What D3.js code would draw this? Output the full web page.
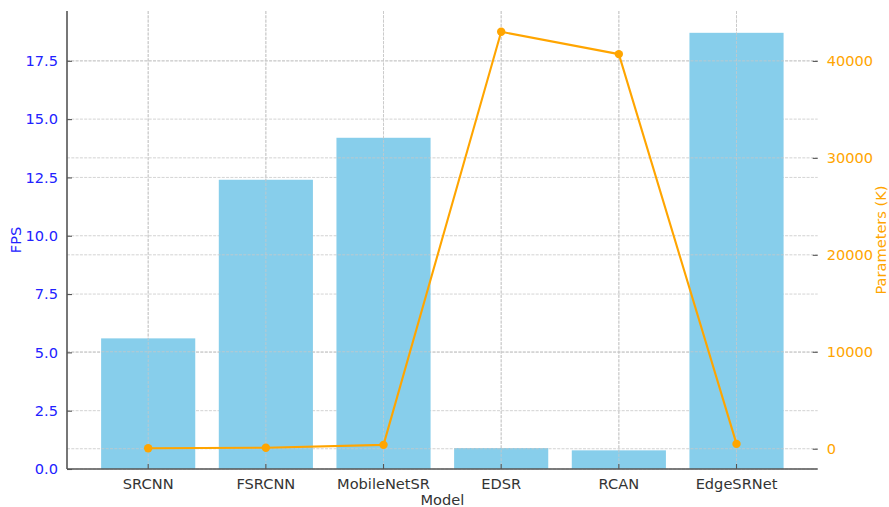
<!DOCTYPE html>
<html><head><meta charset="utf-8">
<script src="https://cdn.jsdelivr.net/npm/d3@7"></script>
<style>body{margin:0;background:#fff}svg{display:block}text{font-family:"DejaVu Sans",sans-serif}</style>
</head><body><svg id="c" width="889" height="507"></svg>
<script>
const categories = ["SRCNN","FSRCNN","MobileNetSR","EDSR","RCAN","EdgeSRNet"];
const fps = [5.6, 12.4, 14.2, 0.9, 0.8, 18.7];
const params = [57, 100, 400, 43000, 40700, 500];
const fpsTicks = [0, 2.5, 5, 7.5, 10, 12.5, 15, 17.5];
const paramTicks = [0, 10000, 20000, 30000, 40000];

const W = 889, H = 507;
const L = 67, R = 817.7, T = 11, B = 469;
const svg = d3.select("#c");
const fs = 14.6;

const x = d3.scaleBand().domain(categories).range([L, R]).paddingInner(0.2).paddingOuter(0.29);
const yL = d3.scaleLinear().domain([0, d3.max(fps) * 1.05]).range([B, T]);
const pMin = d3.min(params), pMax = d3.max(params), span = pMax - pMin;
const yR = d3.scaleLinear().domain([pMin - 0.05 * span, pMax + 0.05 * span]).range([B, T]);
const cx = d => x(d) + x.bandwidth() / 2;

const gridStyle = s => s.attr("stroke", "#c8c8c8").attr("stroke-width", 0.8).attr("stroke-dasharray", "3,1.3");

// ax1 grid
const g1 = svg.append("g");
g1.selectAll("line.h").data(fpsTicks).join("line").attr("x1", L).attr("x2", R)
  .attr("y1", d => yL(d)).attr("y2", d => yL(d)).call(gridStyle);
g1.selectAll("line.v").data(categories).join("line").attr("y1", T).attr("y2", B)
  .attr("x1", cx).attr("x2", cx).call(gridStyle);

// bars
svg.append("g").selectAll("rect").data(categories).join("rect")
  .attr("x", d => x(d)).attr("width", x.bandwidth())
  .attr("y", (d, i) => yL(fps[i])).attr("height", (d, i) => B - yL(fps[i]))
  .attr("fill", "#87ceeb");

// ax2 grid
const g2 = svg.append("g");
g2.selectAll("line.h").data(paramTicks).join("line").attr("x1", L).attr("x2", R)
  .attr("y1", d => yR(d)).attr("y2", d => yR(d)).call(gridStyle);
g2.selectAll("line.v").data(categories).join("line").attr("y1", T).attr("y2", B)
  .attr("x1", cx).attr("x2", cx).call(gridStyle);

// line + markers
const line = d3.line().x((d, i) => cx(categories[i])).y(d => yR(d));
svg.append("path").datum(params).attr("d", line).attr("fill", "none")
  .attr("stroke", "#ffa500").attr("stroke-width", 2.1).attr("stroke-linejoin", "round");
svg.append("g").selectAll("circle").data(params).join("circle")
  .attr("cx", (d, i) => cx(categories[i])).attr("cy", d => yR(d)).attr("r", 4.2).attr("fill", "#ffa500");

// axes
const axL = d3.axisLeft(yL).tickValues(fpsTicks).tickFormat(d3.format(".1f")).tickSizeInner(-5).tickSizeOuter(0).tickPadding(9);
const gL = svg.append("g").attr("transform", `translate(${L},0)`).call(axL);
gL.attr("font-size", null).attr("font-family", null);
gL.select(".domain").attr("stroke", "#555").attr("stroke-width", 1.6).attr("d", `M0,${T}V${B}`);
gL.selectAll(".tick line").attr("stroke", "#555").attr("stroke-width", 1.1);
gL.selectAll(".tick text").attr("fill", "#2222ff").style("font-size", fs + "px");

const axB = d3.axisBottom(x).tickSizeInner(-5).tickSizeOuter(0).tickPadding(10);
const gB = svg.append("g").attr("transform", `translate(0,${B})`).call(axB);
gB.attr("font-size", null).attr("font-family", null);
gB.select(".domain").attr("stroke", "#555").attr("stroke-width", 1.6).attr("d", `M${L},0H${R}`);
gB.selectAll(".tick line").attr("stroke", "#555").attr("stroke-width", 1.1);
gB.selectAll(".tick text").attr("fill", "#333").style("font-size", fs + "px");

const axR = d3.axisRight(yR).tickValues(paramTicks).tickFormat(d3.format("d")).tickSizeInner(-5).tickSizeOuter(0).tickPadding(9);
const gR = svg.append("g").attr("transform", `translate(${R},0)`).call(axR);
gR.attr("font-size", null).attr("font-family", null);
gR.select(".domain").remove();
gR.selectAll(".tick line").attr("stroke", "#555").attr("stroke-width", 1.1);
gR.selectAll(".tick text").attr("fill", "#ffa500").style("font-size", fs + "px");

// labels
svg.append("text").attr("transform", `translate(21,${(T + B) / 2}) rotate(-90)`).attr("text-anchor", "middle")
  .attr("fill", "#2222ff").style("font-size", fs + "px").text("FPS");
svg.append("text").attr("transform", `translate(886,${(T + B) / 2}) rotate(-90)`).attr("text-anchor", "middle")
  .attr("fill", "#ffa500").style("font-size", fs + "px").text("Parameters (K)");
svg.append("text").attr("x", (L + R) / 2).attr("y", 505).attr("text-anchor", "middle")
  .attr("fill", "#333").style("font-size", fs + "px").text("Model");
</script></body></html>
